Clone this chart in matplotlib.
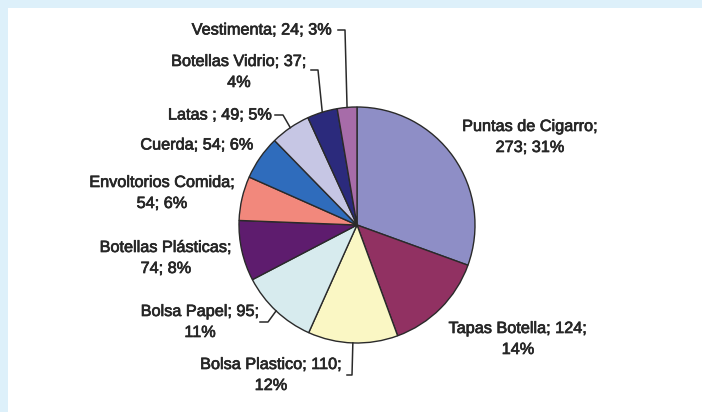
import numpy as np
import matplotlib
matplotlib.use("Agg")
import matplotlib.pyplot as plt
from matplotlib.patches import Rectangle
import matplotlib.patheffects as pe

# ---- data ----
categories = ["Puntas de Cigarro", "Tapas Botella", "Bolsa Plastico", "Bolsa Papel",
              "Botellas Plásticas", "Envoltorios Comida", "Cuerda", "Latas ",
              "Botellas Vidrio", "Vestimenta"]
values = [273, 124, 110, 95, 74, 54, 54, 49, 37, 24]
colors = ["#8e8ec6", "#913162", "#faf7c4", "#d7ebee", "#5e1c6e",
          "#f2887c", "#2f6cbc", "#c6c6e4", "#2b2a7c", "#a76ca9"]
# where the label text wraps
wrap_after_value = [True, True, True, True, True, True, False, False, True, False]
wrap_after_name = [True, False, False, False, True, True, False, False, False, False]

# ---- layout (pixel coordinates, origin top-left) ----
W, H = 702, 412
pie_center = (357, 225)
pie_radius = 118
label_pos = [(530, 137), (518, 339), (271, 375), (200, 322), (166, 258),
             (162, 193), (197, 145), (220, 115), (239, 72), (262, 30)]
# leader hooks: (start, elbow) -> then to the wedge edge
leaders = {
    9: [(338, 30), (345, 30)],
    8: [(311, 70), (318, 70)],
    7: [(275, 115), (283, 115)],
    3: [(260, 322), (268, 322)],
    2: [(347, 375), (352, 375)],
}

plt.rcParams['font.family'] = ['Liberation Sans', 'DejaVu Sans']

fig = plt.figure(figsize=(W / 100, H / 100), dpi=100)
fig.patch.set_facecolor("#ddf0fa")
ax = fig.add_axes([0, 0, 1, 1])


def P(px, py):
    return px, H - py


ax.add_patch(Rectangle((8, 0), W - 8, H - 8, facecolor="white", edgecolor="none", zorder=0))

cx, cy = P(*pie_center)
wedges, _ = ax.pie(values, colors=colors, startangle=90, counterclock=False,
                   center=(cx, cy), radius=pie_radius,
                   wedgeprops=dict(edgecolor="#2a2a2a", linewidth=1.0))

total = sum(values)
for i, (name, v) in enumerate(zip(categories, values)):
    pct = int(np.floor(100 * v / total + 0.5))
    if wrap_after_name[i]:
        txt = f"{name};\n{v}; {pct}%"
    elif wrap_after_value[i]:
        txt = f"{name}; {v};\n{pct}%"
    else:
        txt = f"{name}; {v}; {pct}%"
    x, y = P(*label_pos[i])
    ax.text(x, y, txt, ha="center", va="center", fontsize=11.7, color="#262626",
            linespacing=1.5, zorder=5,
            path_effects=[pe.withStroke(linewidth=0.5, foreground="#262626")])

for i, hook in leaders.items():
    w = wedges[i]
    mid = np.deg2rad((w.theta1 + w.theta2) / 2)
    ex = cx + pie_radius * np.cos(mid)
    ey = cy + pie_radius * np.sin(mid)
    xs = [P(*p)[0] for p in hook] + [ex]
    ys = [P(*p)[1] for p in hook] + [ey]
    ax.plot(xs, ys, color="#2a2a2a", lw=1.1, zorder=4)

ax.set_xlim(0, W)
ax.set_ylim(0, H)
ax.set_aspect("equal")
ax.axis("off")

fig.savefig("out.png", dpi=100, facecolor=fig.get_facecolor())
